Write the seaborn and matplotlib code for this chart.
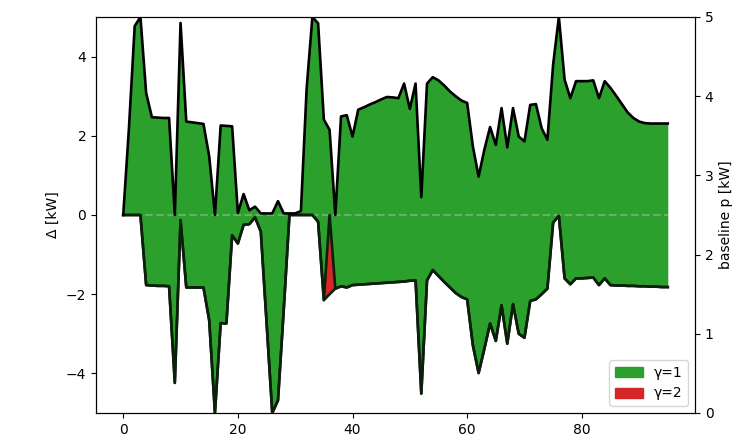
import numpy as np
import matplotlib
matplotlib.use("Agg")
import matplotlib.pyplot as plt
from matplotlib.patches import Patch
import seaborn as sns

# 15-minute steps over one day
steps = np.arange(96)

# upper flexibility envelope [kW]
upper = [
    0.00, 2.20, 4.77, 5.00, 3.08, 2.47, 2.46, 2.45, 2.45, 0.00,
    4.85, 2.36, 2.34, 2.32, 2.30, 1.48, 0.00, 2.26, 2.25, 2.24,
    0.05, 0.53, 0.12, 0.21, 0.04, 0.04, 0.04, 0.35, 0.04, 0.04,
    0.04, 0.10, 3.20, 5.00, 4.84, 2.41, 2.15, 0.00, 2.49, 2.52,
    1.98, 2.66, 2.72, 2.79, 2.85, 2.92, 2.98, 2.97, 2.95, 3.32,
    2.68, 3.32, 0.45, 3.32, 3.48, 3.40, 3.27, 3.12, 3.00, 2.89,
    2.83, 1.73, 0.97, 1.65, 2.22, 1.77, 2.70, 1.71, 2.70, 1.98,
    1.86, 2.78, 2.80, 2.19, 1.90, 3.80, 5.00, 3.42, 2.95, 3.38,
    3.38, 3.38, 3.40, 2.95, 3.38, 3.21, 3.01, 2.80, 2.59, 2.45,
    2.36, 2.32, 2.31, 2.31, 2.31, 2.31,
]

# lower flexibility envelope [kW]
lower = [
    0.00, 0.00, 0.00, 0.00, -1.77, -1.78, -1.79, -1.79, -1.80, -4.24,
    -0.13, -1.83, -1.83, -1.83, -1.83, -2.66, -5.00, -2.73, -2.74, -0.51,
    -0.72, -0.25, -0.23, -0.06, -0.42, -2.70, -5.00, -4.68, -2.40, 0.00,
    0.00, 0.00, 0.00, 0.00, -0.17, -2.15, -2.00, -1.86, -1.80, -1.83,
    -1.77, -1.76, -1.75, -1.74, -1.73, -1.72, -1.71, -1.70, -1.69, -1.68,
    -1.66, -1.65, -4.51, -1.65, -1.39, -1.54, -1.69, -1.83, -1.97, -2.07,
    -2.13, -3.29, -3.99, -3.38, -2.74, -3.18, -2.28, -3.25, -2.25, -3.00,
    -3.10, -2.17, -2.13, -2.00, -1.86, -0.19, -0.02, -1.60, -1.75, -1.60,
    -1.60, -1.59, -1.58, -1.77, -1.60, -1.77, -1.78, -1.78, -1.79, -1.79,
    -1.80, -1.80, -1.81, -1.81, -1.82, -1.82,
]

# rebound factor per step
gamma = [1] * 36 + [2] + [1] * 59

upper = np.array(upper)
lower = np.array(lower)
gamma = np.array(gamma)

# downward range available at gamma=1, the rest belongs to gamma=2
lower_g1 = np.where(gamma == 1, lower, 0.0)
top_g2 = np.where(gamma == 2, 0.0, lower)

fig = plt.figure(figsize=(7.53, 4.41), dpi=100)
ax = fig.add_axes([96 / 753, 1 - 413 / 441, (695 - 96) / 753, (413 - 17) / 441])

ax.fill_between(steps, lower_g1, upper, color="tab:green", lw=0, zorder=1)
ax.fill_between(steps, lower, top_g2, color="tab:red", lw=0, zorder=1)
ax.hlines(0, steps[0], steps[-1], color="lightgray", ls="--", lw=1.5,
          alpha=0.35, zorder=2)

sns.lineplot(x=steps, y=lower_g1, color="#0c1f0c", lw=1.9, ax=ax,
             legend=False, zorder=3)
sns.lineplot(x=steps, y=lower, color="#0c1f0c", lw=1.9, ax=ax,
             legend=False, zorder=3)
sns.lineplot(x=steps, y=upper, color="black", lw=1.9, ax=ax,
             legend=False, zorder=4)

ax.set_ylim(-5, 5)
ax.set_xlim(-4.75, 99.75)
ax.set_xticks([0, 20, 40, 60, 80])
ax.set_ylabel("Δ [kW]")
ax.set_xlabel("")

ax2 = ax.twinx()
ax2.set_ylim(0, 5)
ax2.set_ylabel("baseline p [kW]")

ax.legend(handles=[Patch(color="tab:green", label="γ=1"),
                   Patch(color="tab:red", label="γ=2")],
          loc="lower right")

fig.savefig("out.png", dpi=100)
